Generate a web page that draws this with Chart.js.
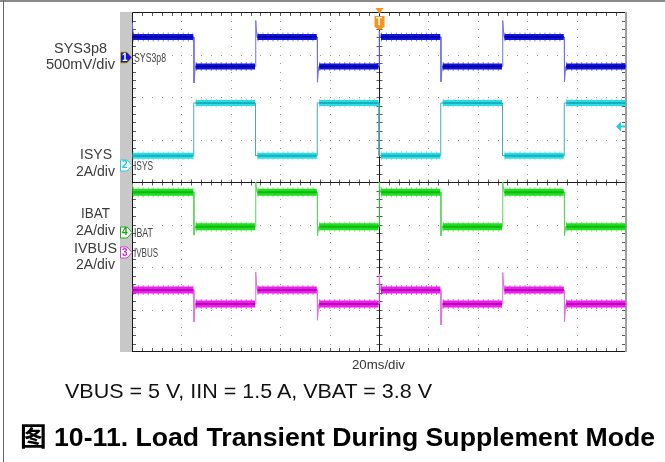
<!DOCTYPE html>
<html>
<head>
<meta charset="utf-8">
<script src="https://cdn.jsdelivr.net/npm/chart.js@4.4.1/dist/chart.umd.min.js"></script>
<style>
html, body { margin: 0; padding: 0; background: #fff; }
#wrap { position: relative; width: 665px; height: 462px; overflow: hidden; font-family: "Liberation Sans", Arial, sans-serif; }
#scope { position: absolute; left: 0; top: 0; }
.txt { position: absolute; white-space: nowrap; transform-origin: 0 50%; line-height: 1; }
.edge-top { position: absolute; left: 0; top: 0; width: 665px; height: 2px; background: #8a8a8a; }
.edge-left { position: absolute; left: 3px; top: 0; width: 1px; height: 462px; background: #666; }
</style>
</head>
<body>
<div id="wrap">
  <canvas id="scope" width="665" height="462"></canvas>
  <div class="edge-top"></div>
  <div class="edge-left"></div>
</div>
<script>
// time base: 20 ms/div, 10 divs; vertical: 8 divs, values below are in screen divisions
const msPerDiv = 20;
const segmentStartMs = [0, 25, 50, 75, 100, 125, 150, 175];
const sweepEndMs = 200;
const triggerMs = 100;
const triggerLevelDiv = 5.31;

// SYS3p8 (500mV/div)
const sys3p8Div  = [7.41, 6.72, 7.41, 6.72, 7.41, 6.72, 7.41, 6.72];
const sys3p8Peak = [7.75, 6.33, 7.80, 6.35, 7.55, 6.36, 7.80, 6.36];
// ISYS (2A/div)
const isysDiv  = [4.62, 5.86, 4.62, 5.86, 4.62, 5.86, 4.62, 5.86];
const isysPeak = [null, null, null, null, null, null, null, null];
// IBAT (2A/div)
const ibatDiv  = [3.76, 2.95, 3.76, 2.95, 3.76, 2.95, 3.76, 2.95];
const ibatPeak = [3.97, 2.75, 4.00, 2.74, 4.00, 2.73, 4.00, 2.74];
// IVBUS (2A/div)
const ivbusDiv  = [1.46, 1.13, 1.46, 1.13, 1.46, 1.13, 1.46, 1.13];
const ivbusPeak = [null, 0.71, 1.88, 0.75, 1.84, 0.64, 1.87, 0.71];

// channel ground markers on the left strip
const markerNames = ['SYS3p8', 'ISYS', 'IBAT', 'IVBUS'];
const markerNums  = ['1', '2', '4', '3'];
const markerDiv   = [6.94, 4.41, 2.83, 2.35];

const channels = [
  { levels: sys3p8Div, peaks: sys3p8Peak, band: '#1414d8', core: '#0000b0', fuzz: 'rgba(40,40,220,0.55)', edge: '#7070f0', w: 6 },
  { levels: isysDiv,   peaks: isysPeak,   band: '#2ddde6', core: '#18b0bc', fuzz: 'rgba(45,215,225,0.55)', edge: '#4eaab2', w: 6 },
  { levels: ibatDiv,   peaks: ibatPeak,   band: '#1ee01e', core: '#14b414', fuzz: 'rgba(30,210,30,0.55)', edge: '#5cd45c', w: 7 },
  { levels: ivbusDiv,  peaks: ivbusPeak,  band: '#ee1cee', core: '#b800b8', fuzz: 'rgba(200,0,200,0.55)', edge: '#e070e0', w: 7 }
];
const markerStyle = [
  { fill: '#1414d8', stroke: '#c8b400', text: '#fff' },
  { fill: '#fff', stroke: '#22d0dc', text: '#22c8d4' },
  { fill: '#fff', stroke: '#18b018', text: '#18a018' },
  { fill: '#fff', stroke: '#d040d0', text: '#c030c0' }
];

function tracePoints(levels, peaks) {
  const pts = [];
  for (let i = 0; i < levels.length; i++) {
    const t = segmentStartMs[i];
    if (i > 0) pts.push({ x: t, y: levels[i - 1] });
    if (peaks[i] !== null) {
      pts.push({ x: t + 0.1, y: peaks[i] });
      pts.push({ x: t + 0.6, y: levels[i] });
    } else {
      pts.push({ x: t, y: levels[i] });
    }
  }
  pts.push({ x: sweepEndMs, y: levels[levels.length - 1] });
  return pts;
}

function bandPoints(levels) {
  const pts = [];
  for (let i = 0; i < levels.length; i++) {
    const start = segmentStartMs[i] + (i === 0 ? 0.3 : 0.8);
    const end = (i + 1 < segmentStartMs.length ? segmentStartMs[i + 1] : sweepEndMs) - 0.2;
    pts.push({ x: start, y: levels[i] });
    pts.push({ x: end, y: levels[i] });
    pts.push({ x: end + 0.01, y: null });
  }
  return pts;
}

const datasets = [];
channels.forEach(function(c) {
  datasets.push({ data: tracePoints(c.levels, c.peaks), borderColor: c.edge, borderWidth: 1, order: 4 });
  datasets.push({ data: bandPoints(c.levels), borderColor: c.fuzz, borderWidth: c.w + 3, order: 3, spanGaps: false, borderDash: [1, 4] });
  datasets.push({ data: bandPoints(c.levels), borderColor: c.band, borderWidth: c.w, order: 2, spanGaps: false });
  datasets.push({ data: bandPoints(c.levels), borderColor: c.core, borderWidth: 2, order: 1, spanGaps: false });
});

const graticule = {
  id: 'graticule',
  beforeDatasetsDraw(chart) {
    const { ctx, chartArea: a, scales: { x, y } } = chart;
    ctx.save();
    ctx.fillStyle = '#c8c8c8';
    ctx.fillRect(a.left - 12, a.top, 12, a.bottom - a.top);

    // dotted division lines
    ctx.fillStyle = '#9a9a9a';
    for (let d = 1; d < 10; d++) {
      if (d === 5) continue;
      const px = Math.round(x.getPixelForValue(d * msPerDiv));
      for (let k = 1; k < 40; k++) {
        ctx.fillRect(px, Math.round(y.getPixelForValue(k / 5)), 1, 1);
      }
    }
    for (let d = 1; d < 8; d++) {
      if (d === 4) continue;
      const py = Math.round(y.getPixelForValue(d));
      for (let k = 1; k < 50; k++) {
        ctx.fillRect(Math.round(x.getPixelForValue(k * msPerDiv / 5)), py, 1, 1);
      }
    }

    const cx = Math.round(x.getPixelForValue(sweepEndMs / 2)) + 0.5;
    const cy = Math.round(y.getPixelForValue(4)) + 0.5;
    // minor ticks
    ctx.strokeStyle = '#5a5a5a';
    ctx.lineWidth = 1;
    ctx.beginPath();
    for (let k = 1; k < 50; k++) {
      const px = Math.round(x.getPixelForValue(k * msPerDiv / 5)) + 0.5;
      ctx.moveTo(px, a.top); ctx.lineTo(px, a.top + 4);
      ctx.moveTo(px, a.bottom); ctx.lineTo(px, a.bottom - 4);
      ctx.moveTo(px, cy - 3); ctx.lineTo(px, cy + 3);
    }
    for (let k = 1; k < 40; k++) {
      const py = Math.round(y.getPixelForValue(k / 5)) + 0.5;
      ctx.moveTo(a.left, py); ctx.lineTo(a.left + 4, py);
      ctx.moveTo(a.right, py); ctx.lineTo(a.right - 4, py);
      ctx.moveTo(cx - 3, py); ctx.lineTo(cx + 3, py);
    }
    ctx.stroke();

    // center cross and frame
    ctx.strokeStyle = '#1a1a1a';
    ctx.beginPath();
    ctx.moveTo(cx, a.top); ctx.lineTo(cx, a.bottom);
    ctx.moveTo(a.left, cy); ctx.lineTo(a.right, cy);
    ctx.moveTo(a.left + 0.5, a.bottom); ctx.lineTo(a.left + 0.5, a.top + 0.5);
    ctx.lineTo(a.right, a.top + 0.5);
    ctx.moveTo(a.left, a.bottom - 0.5); ctx.lineTo(a.right, a.bottom - 0.5);
    ctx.stroke();
    ctx.fillStyle = '#a0a0a0';
    ctx.fillRect(a.right - 1, a.top, 2, a.bottom - a.top);
    ctx.restore();
  },
  afterDatasetsDraw(chart) {
    const { ctx, chartArea: a, scales: { x, y } } = chart;
    ctx.save();
    ctx.lineWidth = 1;
    markerDiv.forEach(function(v, i) {
      const py = Math.round(y.getPixelForValue(v)) + 0.5;
      const l = a.left - 11.5, r = a.left;
      ctx.beginPath();
      ctx.moveTo(l, py - 5.5); ctx.lineTo(r - 5, py - 5.5); ctx.lineTo(r, py);
      ctx.lineTo(r - 5, py + 5.5); ctx.lineTo(l, py + 5.5); ctx.closePath();
      ctx.fillStyle = markerStyle[i].fill; ctx.fill();
      ctx.strokeStyle = markerStyle[i].stroke; ctx.stroke();
    });
    // trigger position marker
    const tx = Math.round(x.getPixelForValue(triggerMs)) + 0.5;
    ctx.fillStyle = '#f5961e';
    ctx.beginPath();
    ctx.moveTo(tx - 4, 8); ctx.lineTo(tx + 4, 8); ctx.lineTo(tx, 14); ctx.closePath(); ctx.fill();
    ctx.beginPath();
    ctx.moveTo(tx - 5, 16); ctx.lineTo(tx + 5, 16); ctx.lineTo(tx + 5, 27); ctx.lineTo(tx, 30); ctx.lineTo(tx - 5, 27); ctx.closePath();
    ctx.fill();
    // trigger level arrow
    const ty = Math.round(y.getPixelForValue(triggerLevelDiv)) + 0.5;
    ctx.strokeStyle = '#22d0dc'; ctx.fillStyle = '#22d0dc'; ctx.lineWidth = 2;
    ctx.beginPath(); ctx.moveTo(a.right - 7, ty); ctx.lineTo(a.right - 1, ty); ctx.stroke();
    ctx.beginPath(); ctx.moveTo(a.right - 10, ty); ctx.lineTo(a.right - 5, ty - 5); ctx.lineTo(a.right - 5, ty + 5); ctx.closePath(); ctx.fill();
    ctx.restore();
  }
};

const chart = new Chart(document.getElementById('scope'), {
  type: 'line',
  data: { datasets: datasets },
  options: {
    responsive: false,
    devicePixelRatio: 1,
    animation: false,
    events: [],
    layout: { padding: { left: 132, top: 12, right: 39, bottom: 110 } },
    elements: { point: { radius: 0 }, line: { tension: 0, fill: false } },
    plugins: { legend: { display: false }, tooltip: { enabled: false } },
    scales: {
      x: { type: 'linear', min: 0, max: sweepEndMs, display: false },
      y: { type: 'linear', min: 0, max: 8, display: false }
    }
  },
  plugins: [graticule]
});

const wrap = document.getElementById('wrap');
function place(text, x, yc, w, size, color, weight) {
  const el = document.createElement('div');
  el.className = 'txt';
  el.textContent = text;
  el.style.fontSize = size + 'px';
  el.style.color = color;
  if (weight) el.style.fontWeight = weight;
  wrap.appendChild(el);
  const box = el.getBoundingClientRect();
  el.style.left = x + 'px';
  el.style.top = (yc - box.height / 2) + 'px';
  if (w) el.style.transform = 'scaleX(' + (w / box.width) + ')';
  return el;
}

// left labels
place('SYS3p8', 54, 48, 53, 14, '#3a3a3a');
place('500mV/div', 46, 64, 69, 14, '#3a3a3a');
place('ISYS', 80, 154, 32, 14, '#3a3a3a');
place('2A/div', 76, 171, 39, 14, '#3a3a3a');
place('IBAT', 81, 213, 29, 14, '#3a3a3a');
place('2A/div', 76, 230, 39, 14, '#3a3a3a');
place('IVBUS', 74, 248, 43, 14, '#3a3a3a');
place('2A/div', 76, 264, 39, 14, '#3a3a3a');

// channel markers and names
const ys = chart.scales.y, xs = chart.scales.x;
const nameW = [32, 19, 19, 24];
markerDiv.forEach(function(v, i) {
  const py = ys.getPixelForValue(v);
  place(markerNums[i], 122, py + 0.5, null, 10, markerStyle[i].text, 'bold');
  place(markerNames[i], 134, py + 0.5, nameW[i], 13, '#444');
});
place('T', xs.getPixelForValue(triggerMs) - 3, 22, null, 10, '#fff', 'bold');

place('20ms/div', 352, 364, 53, 13, '#333');
place('VBUS = 5 V, IIN = 1.5 A, VBAT = 3.8 V', 65, 390, 367, 21, '#111');
const title = place('图 10-11. Load Transient During Supplement Mode', 20, 437, 635, 26, '#000', 'bold');
title.style.fontFamily = '"Liberation Sans", "Noto Sans CJK SC", Arial, sans-serif';
</script>
</body>
</html>
